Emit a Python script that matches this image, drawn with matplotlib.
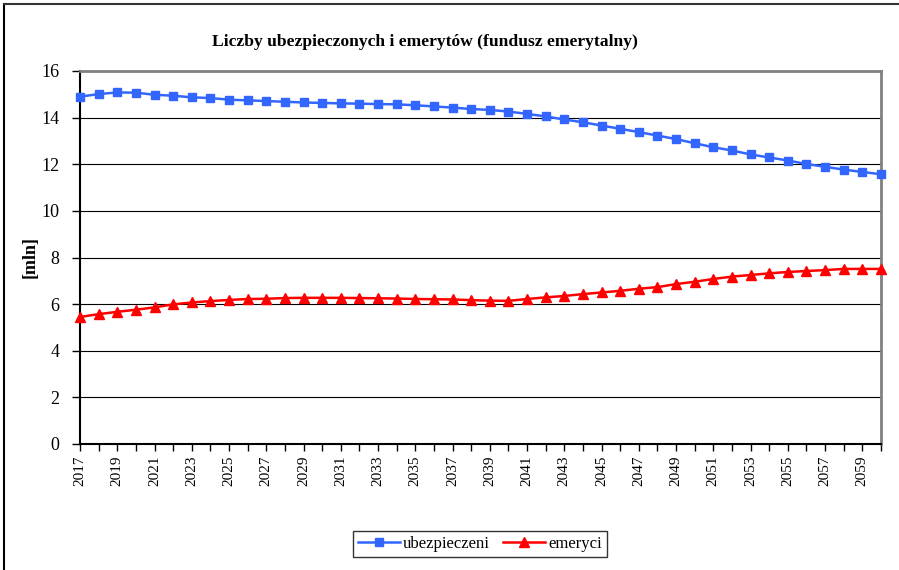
import matplotlib
matplotlib.use("Agg")
import matplotlib.pyplot as plt
from matplotlib.lines import Line2D

# dane
lata = list(range(2017, 2061))
ubezpieczeni = [14.90, 15.01, 15.08, 15.07, 14.98, 14.94, 14.87, 14.84, 14.77, 14.74,
                14.71, 14.68, 14.65, 14.63, 14.61, 14.60, 14.58, 14.57, 14.53, 14.48,
                14.43, 14.37, 14.33, 14.26, 14.16, 14.05, 13.92, 13.80, 13.66, 13.52,
                13.38, 13.23, 13.08, 12.90, 12.73, 12.59, 12.42, 12.29, 12.16, 12.01,
                11.89, 11.77, 11.67, 11.57]
emeryci = [5.45, 5.57, 5.67, 5.76, 5.86, 5.99, 6.07, 6.13, 6.18, 6.22,
           6.23, 6.26, 6.27, 6.27, 6.27, 6.26, 6.25, 6.24, 6.22, 6.21,
           6.20, 6.17, 6.15, 6.14, 6.22, 6.29, 6.35, 6.43, 6.50, 6.57,
           6.66, 6.73, 6.86, 6.96, 7.08, 7.18, 7.25, 7.32, 7.38, 7.42,
           7.46, 7.51, 7.51, 7.51]
etykiety_lat = [str(r) if (r - 2017) % 2 == 0 else "" for r in lata]

plt.rcParams["font.family"] = ["Liberation Serif", "DejaVu Serif"]

fig = plt.figure(figsize=(8.99, 5.70), dpi=100)
ax = fig.add_axes([80 / 899, 1 - 444 / 570, 801 / 899, 373 / 570])

ax.plot(lata, ubezpieczeni, color="#3366FF", linewidth=1.8, marker="s",
        markersize=6, label="ubezpieczeni", clip_on=False, zorder=3)
ax.plot(lata, emeryci, color="#FF0000", linewidth=1.8, marker="^",
        markersize=7, label="emeryci", clip_on=False, zorder=3)

ax.set_xlim(2017, 2060)
ax.set_ylim(0, 16)
ax.set_yticks(range(0, 17, 2))
ax.set_xticks(lata)
ax.set_xticklabels(etykiety_lat, rotation=90, fontsize=11)
ax.tick_params(axis="y", labelsize=13, length=6, width=1, direction="out", pad=9)
ax.tick_params(axis="x", length=5, width=1, direction="out", pad=3)
ax.grid(axis="y", color="black", linewidth=0.8)
ax.set_axisbelow(True)

for s in ["left", "bottom"]:
    ax.spines[s].set_color("black")
    ax.spines[s].set_linewidth(1.5)
for s in ["top", "right"]:
    ax.spines[s].set_color("#808080")
    ax.spines[s].set_linewidth(2)

ax.set_ylabel("[mln]", fontsize=13, fontweight="bold")
ax.yaxis.set_label_coords(-0.052, 0.5)

fig.text(425 / 899, 1 - 42 / 570, "Liczby ubezpieczonych i emerytów (fundusz emerytalny)",
         ha="center", va="center", fontsize=12.6, fontweight="bold")

leg = fig.legend(loc="center", bbox_to_anchor=(480 / 899, 1 - 544 / 570), ncol=2,
                 fontsize=12, frameon=True, fancybox=False, edgecolor="black",
                 handlelength=2.5, handletextpad=0.2, columnspacing=0.8,
                 borderpad=0.3)
leg.get_frame().set_linewidth(1)

# ramka wykresu (lewa i górna krawędź)
fig.add_artist(Line2D([4 / 899, 4 / 899], [0, 1 - 4 / 570], color="black", linewidth=1.5))
fig.add_artist(Line2D([4 / 899, 1], [1 - 4 / 570, 1 - 4 / 570], color="#333333", linewidth=1.5))

fig.savefig("out.png", dpi=100)
